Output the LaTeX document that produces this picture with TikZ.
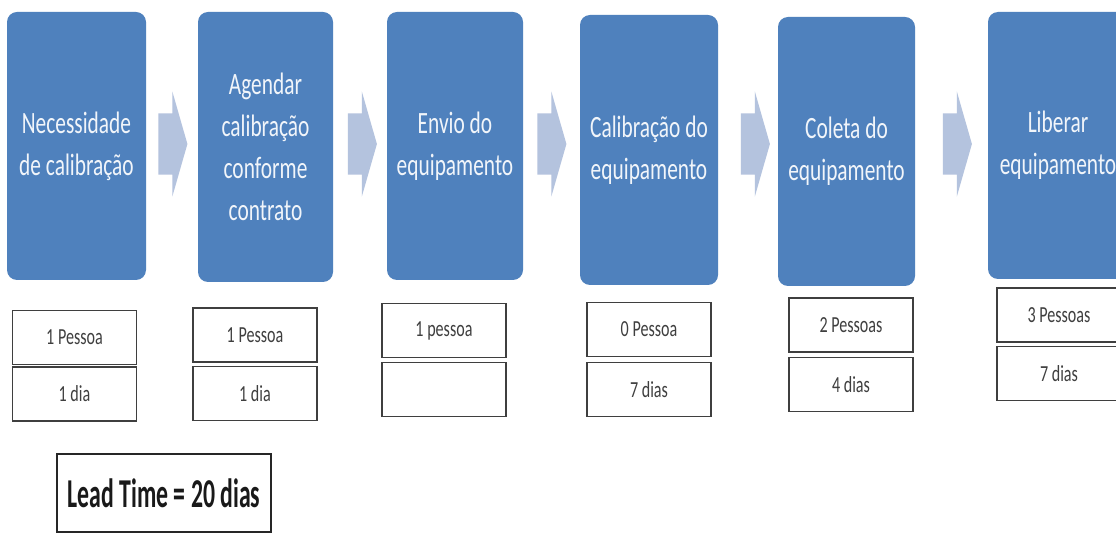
\documentclass[tikz,border=0pt]{standalone}
\usepackage{fontspec}
\usepackage{tikz}
\usetikzlibrary{shapes.arrows, positioning}
\newfontfamily\stepfont[FakeStretch=0.69]{Carlito}
\newfontfamily\infofont[FakeStretch=0.7]{Carlito}
\newfontfamily\leadfont[FakeStretch=0.58]{Carlito}
\definecolor{stepblue}{HTML}{4F81BD}
\definecolor{flowgray}{HTML}{B4C3DE}
\definecolor{infoline}{HTML}{3F3F3F}
\tikzstyle{etapa}=[fill=stepblue,rounded corners=10pt,text=white!92!stepblue,align=center,inner sep=0pt,font=\stepfont\fontsize{31}{42}\selectfont]
\tikzstyle{seta}=[single arrow,fill=flowgray,inner xsep=0pt,inner ysep=30.5pt,single arrow head extend=22pt,single arrow tip angle=148,minimum height=29pt]
\tikzstyle{info}=[draw=infoline,line width=1.3pt,minimum width=124pt,minimum height=54pt,inner sep=0pt,text=infoline,font=\infofont\fontsize{23}{26}\selectfont]
\tikzstyle{lead}=[draw=black!85,line width=2pt,minimum width=214pt,minimum height=78pt,inner sep=0pt,text=black!90,font=\leadfont\bfseries\fontsize{41}{44}\selectfont]

\begin{document}
\begin{tikzpicture}[x=1pt,y=-1pt]
    \clip (0,0) rectangle (1116,534);
    \fill[white] (0,0) rectangle (1116,534);
    \foreach \n/\cx/\cy/\w/\h/\t in {s1/76.5/146/139/268/{Necessidade\\de calibração}, s2/265.5/147/135/270/{Agendar\\calibração\\conforme\\contrato}, s3/455/146/136/268/{Envio do\\equipamento}, s4/649/150/138/270/{Calibração do\\equipamento}, s5/846.5/151.5/137/269/{Coleta do\\equipamento}, s6/1058/145.5/140/267/{Liberar\\equipamento}}
        \node[etapa,minimum width=\w pt,minimum height=\h pt] (\n) at (\cx,\cy) {\t};
    \foreach \n/\cx in {a1/168.5, a2/358, a3/547.5, a4/751, a5/953}
        \node[seta] (\n) at (\cx,144) {};
    \foreach \n/\cx/\yp/\yd/\p/\d in {1/74.5/337.5/394/1 Pessoa/1 dia, 2/255/335/393.5/1 Pessoa/1 dia, 3/444/330.5/389.5/1 pessoa/{}, 4/649/329.5/389.5/0 Pessoa/7 dias, 5/851/325/384.5/2 Pessoas/4 dias, 6/1059/315/373.5/3 Pessoas/7 dias} {
        \node[info] (p\n) at (\cx,\yp) {\p};
        \node[info] (d\n) at (\cx,\yd) {\d};
    }
    \node[lead] (lt) at (164,493) {Lead Time = 20 dias};
\end{tikzpicture}
\end{document}
